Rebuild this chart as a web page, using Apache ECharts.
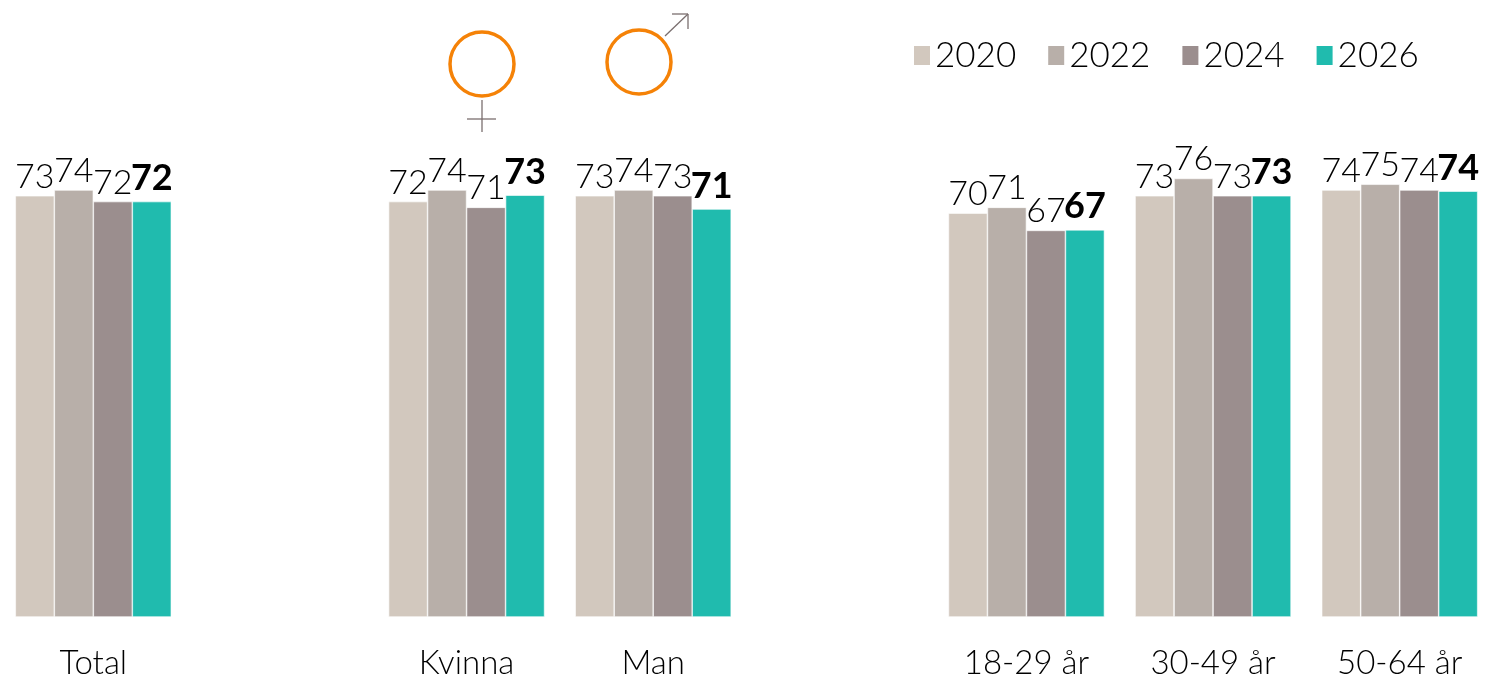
<!DOCTYPE html>
<html><head><meta charset="utf-8">
<style>html,body{margin:0;padding:0;background:#fff;overflow:hidden}#c{width:1493px;height:681px}</style>
<script src="https://cdn.jsdelivr.net/npm/echarts@6/dist/echarts.min.js"></script>
</head><body><div id="c"></div>
<script>
const categories = ['Total','','Kvinna','Man','','18-29 år','30-49 år','50-64 år'];
const years = ['2020','2022','2024','2026'];
const s2020 = [73,null,72,73,null,70,73,74];
const s2022 = [74,null,74,74,null,71,76,75];
const s2024 = [72,null,71,73,null,67,73,74];
const s2026 = [72,null,73.1,70.7,null,67.1,73,73.8];
const colors = ['#D2C8BE','#B8AFA9','#9B8E8E','#20BBAE'];
const FONT = 'Lato, "Noto Sans", sans-serif';
const chart = echarts.init(document.getElementById('c'), null, {renderer:'canvas'});
function ser(i, data){
  const last = i === 3;
  return {
    name: years[i], type:'bar', data, barWidth:39, barGap:'0%',
    itemStyle:{color:colors[i], borderColor:'#fff', borderWidth:0.6},
    emphasis:{disabled:true}, animation:false,
    label:{show:true, position:'top', distance:last?5:2, color:'#000',
      fontFamily:FONT, fontSize:last?36:34, fontWeight:last?'bold':300,
      formatter:p=>Math.round(p.value)}
  };
}
const greyLine = {stroke:'#7A6F6F', lineWidth:1.3};
const orange = {fill:'none', stroke:'#F58207', lineWidth:3.5};
chart.setOption({
  animation:false,
  color:colors,
  grid:{left:-1.5, top:40, width:1501, height:577, containLabel:false},
  xAxis:{type:'category', data:categories,
    axisLine:{show:false}, axisTick:{show:false},
    axisLabel:{interval:0, margin:30, color:'#000', fontFamily:FONT, fontSize:33, fontWeight:300}},
  yAxis:{type:'value', min:0, max:100, show:false, splitLine:{show:false}},
  legend:{data:years, left:907, top:33, itemWidth:18, itemHeight:21, itemGap:30,
    icon:'rect', textStyle:{color:'#000', fontFamily:FONT, fontSize:35, fontWeight:300, padding:[0,0,0,-1]}},
  series:[ser(0,s2020),ser(1,s2022),ser(2,s2024),ser(3,s2026)],
  graphic:[
    {type:'circle', shape:{cx:482,cy:64,r:32}, style:orange, silent:true},
    {type:'line', shape:{x1:482,y1:100,x2:482,y2:132}, style:greyLine, silent:true},
    {type:'line', shape:{x1:467,y1:119,x2:496,y2:119}, style:greyLine, silent:true},
    {type:'circle', shape:{cx:639,cy:62,r:32}, style:orange, silent:true},
    {type:'line', shape:{x1:665,y1:36,x2:688,y2:14}, style:greyLine, silent:true},
    {type:'line', shape:{x1:672,y1:14,x2:688,y2:14}, style:greyLine, silent:true},
    {type:'line', shape:{x1:688,y1:14,x2:688,y2:29}, style:greyLine, silent:true}
  ]
});
</script></body></html>
